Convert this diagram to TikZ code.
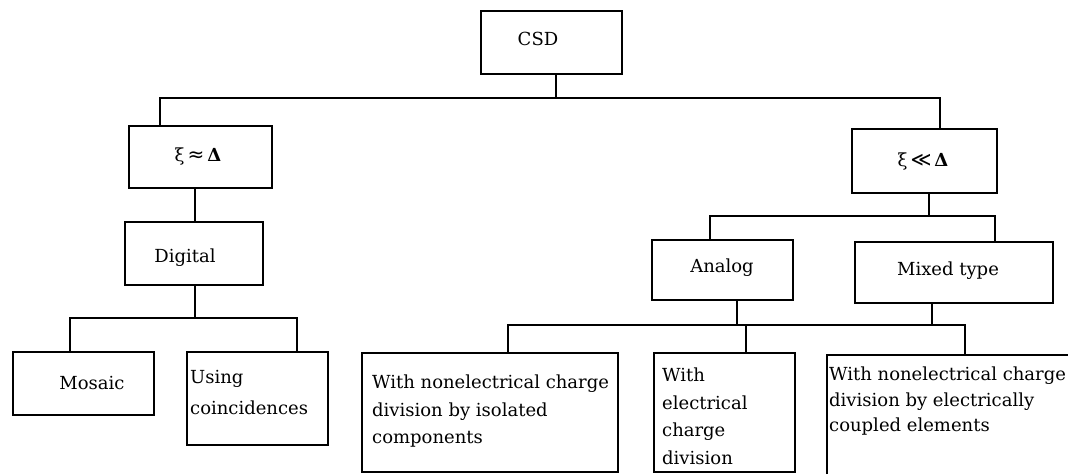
\documentclass[tikz,border=0pt]{standalone}
\usepackage{fontspec}
\setmainfont{DejaVu Serif}
\newfontfamily\symfont{DejaVu Sans}
\begin{document}
\begin{tikzpicture}[x=1pt,y=1pt,
  box/.style={draw, line width=1.7pt, rectangle, inner sep=0pt},
  lbl/.style={inner sep=0pt, font=\fontsize{18}{21}\selectfont},
  mlbl/.style={inner sep=0pt, anchor=north west, align=left},
  conn/.style={line width=1.6pt}]
\useasboundingbox (0,0) rectangle (1070,-474);
% boxes
\node[box, minimum width=141pt, minimum height=63pt] (csd) at (551.5,-42.5) {};
\node[box, minimum width=143pt, minimum height=62pt] (xi1) at (200.5,-157) {};
\node[box, minimum width=145pt, minimum height=64pt] (xi2) at (924.5,-161) {};
\node[box, minimum width=138pt, minimum height=63pt] (dig) at (194,-253.5) {};
\node[box, minimum width=141pt, minimum height=60pt] (ana) at (722.5,-270) {};
\node[box, minimum width=198pt, minimum height=61pt] (mix) at (954,-272.5) {};
\node[box, minimum width=141pt, minimum height=63pt] (mos) at (83.5,-383.5) {};
\node[box, minimum width=141pt, minimum height=93pt] (usi) at (257.5,-398.5) {};
\node[box, minimum width=256pt, minimum height=119pt] (lb) at (490,-412.5) {};
\node[box, minimum width=141pt, minimum height=119pt] (mid) at (724.5,-412.5) {};
\node[inner sep=0pt, minimum width=241pt, minimum height=119pt] (rb) at (947.5,-414.5) {};
\draw[line width=1.7pt] (rb.south west) -- (rb.north west) -- (rb.north east);
% texts
\node[lbl] (tcsd) at (538,-39) {CSD};
\node[lbl] (txi1) at (198,-157) {ξ\,{\symfont\fontsize{20}{21}\selectfont ≈}\,\textbf{Δ}};
\node[lbl] (txi2) at (923,-162) {ξ\,{\symfont\fontsize{20}{21}\selectfont ≪}\,\textbf{Δ}};
\node[lbl] (tdig) at (185,-258) {Digital};
\node[lbl] (tana) at (722,-268) {Analog};
\node[lbl] (tmix) at (948,-271) {Mixed type};
\node[lbl] (tmos) at (92,-383) {Mosaic};
\node[mlbl, font=\fontsize{18}{31}\selectfont] (tusi) at (190,-370) {Using\\coincidences};
\node[mlbl, font=\fontsize{18}{27.5}\selectfont] (tlb) at (372,-375) {With nonelectrical charge\\division by isolated\\components};
\node[mlbl, font=\fontsize{18}{27.5}\selectfont] (tmid) at (662,-368) {With\\electrical\\charge\\division};
\node[mlbl, font=\fontsize{18}{25.5}\selectfont] (trb) at (829,-367) {With nonelectrical charge\\division by electrically\\coupled elements};
% junctions
\coordinate (j1) at (556,-98);
\coordinate (j3) at (195,-318);
\coordinate (j4) at (929,-216);
\coordinate (j5) at (850,-325);
% connectors
\draw[conn] ([xshift=4.5pt]csd.south) -- (j1);
\draw[conn] ([xshift=-40.5pt]xi1.north) |- (j1) -| ([xshift=15.5pt]xi2.north);
\draw[conn] ([xshift=-5.5pt]xi1.south) -- ([xshift=1pt]dig.north);
\draw[conn] ([xshift=1pt]dig.south) -- (j3);
\draw[conn] ([xshift=-13.5pt]mos.north) |- (j3) -| ([xshift=39.5pt]usi.north);
\draw[conn] ([xshift=4.5pt]xi2.south) -- (j4);
\draw[conn] ([xshift=-12.5pt]ana.north) |- (j4) -| ([xshift=41pt]mix.north);
\draw[conn] ([xshift=14.5pt]ana.south) -- ++(0,-25);
\draw[conn] ([xshift=-22pt]mix.south) -- ++(0,-22);
\draw[conn] ([xshift=18pt]lb.north) |- (j5) -| ([xshift=17.5pt]rb.north);
\draw[conn] ([xshift=21.5pt]mid.north) -- ++(0,28);
\end{tikzpicture}
\end{document}
